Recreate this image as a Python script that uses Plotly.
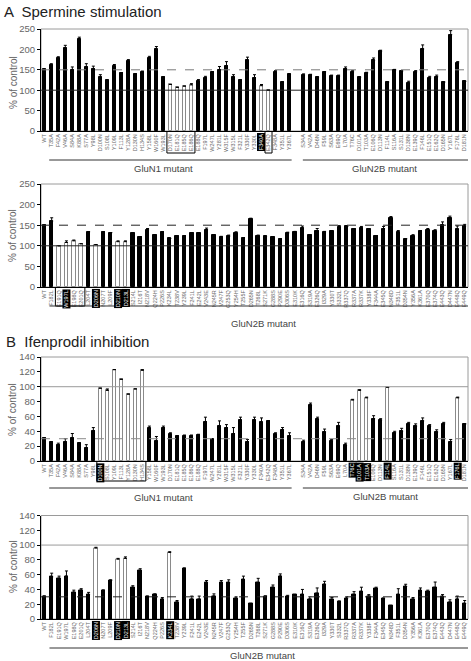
import plotly.graph_objects as go

# ---------------- DATA ----------------
# Panel A (spermine stimulation), top row
a_n1_labels = ["WT", "T35A", "F42A", "V46A", "S84A", "K88A", "S77A", "Y98L", "D100N", "S108L",
               "Y109L", "F113L", "Y128A", "D130N", "H134S", "Y158L", "W160F", "W193L", "D170N",
               "E181Q", "E185Q", "E186Q", "E188Q", "F197L", "W247L", "Y281L", "W315F", "W315L",
               "F321L", "Y330F", "Y330L", "F340A", "E342Q", "F348A", "Y351L", "Y367L"]
a_n1_vals = [151, 163, 179, 203, 150, 225, 157, 153, 132, 124, 159, 143, 172, 140, 145, 180, 200,
             132, 114, 107, 110, 113, 122, 131, 145, 150, 160, 132, 125, 173, 131, 111, 100, 145,
             120, 139]
a_n1_err = [0, 2, 3, 7, 7, 5, 8, 6, 6, 0, 4, 0, 3, 0, 2, 3, 7, 0, 0, 0, 0, 3, 4, 3, 0, 8, 10,
            6, 0, 8, 7, 3, 0, 3, 0, 0]

a_n2b_top_labels = ["S34A", "V42A", "D46N", "F59L", "S63A", "E69Q", "L70A", "T76C", "D101A",
                    "T103A", "E106Q", "D113N", "F114L", "S116A", "S131L", "D138N", "E139Q",
                    "F146L", "E151Q", "E162Q", "D165N", "Y167L", "F176L", "D181N"]
a_n2b_top_vals = [137, 137, 132, 145, 135, 134, 153, 145, 132, 142, 173, 195, 120, 149, 146,
                  118, 145, 201, 130, 133, 120, 236, 167, 122]
a_n2b_top_err = [3, 2, 0, 0, 2, 3, 4, 3, 0, 2, 6, 3, 0, 2, 2, 4, 3, 10, 4, 4, 0, 10, 3, 0]

# Panel A, bottom row (GluN2B)
n2b_bot_labels = ["WT", "F182L", "E191Q", "W197L", "E198Q", "E201Q", "L204T", "D206N", "N207T",
                  "L209F", "D210N", "D213L", "S214L", "I216T", "N218V", "Q224H", "P226S", "K234L",
                  "T238V", "Y239L", "F241L", "E242L", "V243E", "N245R", "V247F", "G253Q", "Y254H",
                  "T255F", "D265N", "T268L", "S271K", "G288S", "P290E", "D306S", "E310K", "E316Q",
                  "S319A", "E326Q", "I329A", "Y330T", "S332L", "R337Q", "R337A", "R337K", "Y338F",
                  "F344A", "E345Q", "N348D", "F351L", "D354N", "Y356A", "K361A", "E370Q", "E374Q",
                  "E443Q", "D447N", "E448Q", "E449Q"]
a_n2b_bot_vals = [150, 160, 100, 108, 112, 105, 134, 103, 134, 132, 110, 110, 131, 122, 139, 126,
                  134, 118, 124, 124, 132, 130, 139, 126, 121, 123, 131, 120, 164, 124, 123, 121,
                  117, 131, 133, 143, 127, 137, 133, 135, 146, 147, 140, 144, 140, 125, 142, 167,
                  133, 117, 124, 137, 138, 135, 150, 167, 140, 148]
a_n2b_bot_err = [0, 8, 0, 4, 2, 0, 0, 0, 0, 0, 2, 2, 0, 0, 3, 0, 0, 0, 0, 0, 0, 0, 4, 0, 2, 3, 3,
                 0, 3, 2, 0, 0, 0, 2, 2, 5, 0, 5, 2, 0, 3, 0, 2, 3, 2, 0, 5, 4, 4, 0, 3, 0, 4, 4,
                 8, 5, 8, 4]

# Panel B (ifenprodil inhibition)
b_n1_vals = [31, 25, 22, 26, 31, 24, 18, 41, 98, 95, 123, 110, 90, 97, 122, 44, 27, 45, 36, 33,
             34, 34, 35, 53, 29, 47, 45, 37, 55, 26, 55, 52, 54, 36, 42, 34]
b_n1_err = [0, 1, 2, 4, 6, 0, 4, 4, 0, 2, 0, 0, 0, 0, 1, 3, 6, 2, 2, 1, 1, 1, 1, 6, 0, 7, 4, 8,
            4, 3, 4, 6, 0, 2, 3, 4]
b_n2b_top_vals = [26, 75, 56, 39, 27, 47, 21, 82, 95, 85, 57, 55, 99, 38, 40, 50, 47, 54, 47,
                  39, 50, 26, 85, 50]
b_n2b_top_err = [2, 3, 3, 4, 2, 5, 3, 1, 1, 1, 4, 2, 0, 2, 4, 2, 3, 4, 2, 3, 2, 3, 1, 0]
b_n2b_bot_vals = [31, 57, 55, 58, 36, 39, 33, 96, 39, 52, 81, 82, 42, 65, 30, 33, 27, 90, 23,
                  68, 27, 27, 49, 31, 49, 49, 28, 53, 21, 49, 31, 42, 58, 30, 33, 33, 27, 35, 47,
                  26, 24, 28, 33, 37, 31, 41, 28, 18, 33, 44, 27, 38, 37, 42, 30, 23, 27, 21]
b_n2b_bot_err = [0, 5, 3, 7, 3, 2, 3, 1, 0, 1, 1, 2, 3, 3, 1, 1, 2, 1, 2, 1, 4, 4, 3, 3, 3, 4,
                 2, 5, 0, 6, 0, 4, 3, 2, 0, 7, 3, 7, 4, 3, 0, 2, 4, 6, 2, 2, 0, 0, 8, 3, 2, 4, 2,
                 8, 3, 3, 4, 4]

# styling sets (names)
a_top_white = {"D170N", "E181Q", "E185Q", "E186Q", "F340A", "E342Q"}
a_top_black_lab = {"F340A"}
a_bot_white = {"E191Q", "W197L", "E198Q", "E201Q", "D206N", "D210N", "D213L"}
a_bot_black_lab = {"W197L", "D206N", "D210N", "D213L"}
b_top_white_n1 = {"D100N", "S108L", "Y109L", "F113L", "Y128A", "D130N", "H134S"}
b_top_white_n2 = {"T76C", "D101A", "T103A", "F114L", "F176L"}
b_top_black_n1 = {"D100N"}
b_top_black_n2 = {"T76C", "D101A", "T103A", "F114L", "F176L"}
b_bot_white = {"D206N", "D210N", "D213L", "K234L"}
b_bot_black_lab = {"D206N", "D210N", "D213L", "K234L"}

# ---------------- LAYOUT ----------------
W, H = 471, 661
FONT = "Arial, Liberation Sans, sans-serif"
GREY = "#666666"


def py(p):
    return 1 - p / H


def px(p):
    return p / W


XDOM = [px(41), px(468)]
panels = {
    1: dict(y0=131, y1=29, ymax=250, dtick=50),
    2: dict(y0=287, y1=184, ymax=250, dtick=50),
    3: dict(y0=461, y1=357, ymax=140, dtick=20),
    4: dict(y0=619, y1=515.5, ymax=140, dtick=20),
}

fig = go.Figure()
annotations = []
shapes = []

n1_pos = list(range(len(a_n1_labels)))
n2_top_pos = [len(a_n1_labels) + 1 + j for j in range(len(a_n2b_top_labels))]
top_pos = n1_pos + n2_top_pos
top_labels = a_n1_labels + a_n2b_top_labels
bot_pos = list(range(len(n2b_bot_labels)))


def add_bars(k, xs, labels, vals, errs, white, width):
    fills = ["white" if l in white else "black" for l in labels]
    lines = ["#8a8a8a" if l in white else "black" for l in labels]
    fig.add_trace(go.Bar(
        x=xs, y=vals, width=width, marker=dict(color=fills, line=dict(color=lines, width=1)),
        error_y=dict(type="data", array=errs, arrayminus=[0] * len(errs), symmetric=False,
                     color="black", thickness=1, width=1.5),
        xaxis="x" if k == 1 else f"x{k}", yaxis="y" if k == 1 else f"y{k}",
        showlegend=False, hoverinfo="skip"))


add_bars(1, n1_pos, a_n1_labels, a_n1_vals, a_n1_err, a_top_white, 0.5)
add_bars(1, n2_top_pos, a_n2b_top_labels, a_n2b_top_vals, a_n2b_top_err, set(), 0.5)
add_bars(2, bot_pos, n2b_bot_labels, a_n2b_bot_vals, a_n2b_bot_err, a_bot_white, 0.48)
add_bars(3, n1_pos, a_n1_labels, b_n1_vals, b_n1_err, b_top_white_n1, 0.5)
add_bars(3, n2_top_pos, a_n2b_top_labels, b_n2b_top_vals, b_n2b_top_err, b_top_white_n2, 0.5)
add_bars(4, bot_pos, n2b_bot_labels, b_n2b_bot_vals, b_n2b_bot_err, b_bot_white, 0.48)


def axis_names(k):
    return ("x" if k == 1 else f"x{k}", "y" if k == 1 else f"y{k}")


def setup_axes(k, pos, labels, black_set, rng):
    p = panels[k]
    xa, ya = axis_names(k)
    ticktext = ["" if l in black_set else l for l in labels]
    fig.update_layout(**{
        ("xaxis" if k == 1 else f"xaxis{k}"): dict(
            domain=XDOM, anchor=ya, range=rng, tickmode="array", tickvals=pos,
            ticktext=ticktext, tickangle=-90, ticks="", showgrid=False, zeroline=False,
            showline=True, linecolor="black", linewidth=1, automargin=False,
            tickfont=dict(family=FONT, size=5.5, color=GREY)),
        ("yaxis" if k == 1 else f"yaxis{k}"): dict(
            domain=[py(p["y0"]), py(p["y1"])], anchor=xa, range=[0, p["ymax"]],
            dtick=p["dtick"], tick0=0, ticks="outside", ticklen=3, tickcolor="black",
            showgrid=False, zeroline=False, showline=True, linecolor="black", linewidth=1,
            automargin=False, tickfont=dict(family=FONT, size=9.5, color=GREY)),
    })
    for x, l in zip(pos, labels):
        if l in black_set:
            annotations.append(dict(
                x=x, y=0, xref=xa, yref=f"{ya} domain", yanchor="top", xanchor="center",
                yshift=-1.5, text=l, textangle=-90, showarrow=False, bgcolor="black",
                borderpad=0.3, font=dict(family=FONT, size=5.5, color="white")))
    shapes.append(dict(type="rect", xref=f"{xa} domain", yref=f"{ya} domain", x0=0, x1=1, y0=0,
                       y1=1, line=dict(color="#9a9a9a", width=1), layer="below"))


setup_axes(1, top_pos, top_labels, a_top_black_lab, [-0.47, 60.47])
setup_axes(2, bot_pos, n2b_bot_labels, a_bot_black_lab, [-0.45, 57.45])
setup_axes(3, top_pos, top_labels, b_top_black_n1 | b_top_black_n2, [-0.47, 60.47])
setup_axes(4, bot_pos, n2b_bot_labels, b_bot_black_lab, [-0.45, 57.45])


def hline(k, yv, color, dash, width=1):
    xa, ya = axis_names(k)
    shapes.append(dict(type="line", xref=f"{xa} domain", yref=ya, x0=0, x1=1, y0=yv, y1=yv,
                       line=dict(color=color, width=width, dash=dash), layer="above"))


hline(1, 100, "#222222", "solid")
hline(1, 150, "#7a7a7a", "dash")
hline(2, 100, "#222222", "solid")
hline(2, 150, "#222222", "dash")
hline(3, 100, "#9a9a9a", "solid")
hline(3, 30, "#8a8a8a", "dash")
hline(4, 100, "#9a9a9a", "solid")
hline(4, 30, "#222222", "dash")


def label_box(k, xs_first, xs_last, depth_px):
    xa, ya = axis_names(k)
    p = panels[k]
    hpx = p["y0"] - p["y1"]
    shapes.append(dict(type="rect", xref=xa, yref=f"{ya} domain", x0=xs_first - 0.5,
                       x1=xs_last + 0.5, y0=-0.5 / hpx, y1=-depth_px / hpx,
                       line=dict(color="black", width=1)))


idx = {l: i for l, i in zip(top_labels, top_pos)}
bidx = {l: i for l, i in zip(n2b_bot_labels, bot_pos)}
label_box(1, idx["D170N"], idx["E186Q"], 22)
label_box(1, idx["E342Q"], idx["E342Q"], 22)
label_box(2, bidx["E191Q"], bidx["E201Q"], 19)
label_box(3, idx["D100N"], idx["H134S"], 20)


def group_line(k, x0, x1, ypx):
    xa, _ = axis_names(k)
    shapes.append(dict(type="line", xref=xa, yref="paper", x0=x0, x1=x1, y0=py(ypx), y1=py(ypx),
                       line=dict(color="#333333", width=1)))


def text(x, y, s, size, color=GREY, angle=0, xanchor="center"):
    annotations.append(dict(x=px(x), y=py(y), xref="paper", yref="paper", text=s,
                            showarrow=False, textangle=angle, xanchor=xanchor, yanchor="middle",
                            font=dict(family=FONT, size=size, color=color)))


group_line(1, 0.7, 35.3, 160)
group_line(1, 36.9, 60.8, 160)
text(163, 168, "GluN1 mutant", 9.5, "#444444")
text(384, 168, "GluN2B mutant", 9.5, "#444444")
group_line(2, 0.7, 57.6, 306)
text(263, 323, "GluN2B mutant", 9.5, "#444444")
group_line(3, 0.7, 35.3, 488)
group_line(3, 36.9, 60.8, 488)
text(163, 497, "GluN1 mutant", 9.5, "#444444")
text(385, 496, "GluN2B mutant", 9.5, "#444444")
group_line(4, 0.7, 57.6, 648)
text(262, 655, "GluN2B mutant", 9.5, "#444444")

text(13, 83, "% of control", 10, GREY, -90)
text(13, 236, "% of control", 10, GREY, -90)
text(13, 410, "% of control", 10, GREY, -90)
text(13, 567, "% of control", 10, GREY, -90)

text(2, 11, "A  Spermine stimulation", 15, "#222222", 0, "left")
text(4, 342, "B  Ifenprodil inhibition", 15, "#222222", 0, "left")

fig.update_layout(
    width=W, height=H, margin=dict(l=0, r=0, t=0, b=0),
    paper_bgcolor="white", plot_bgcolor="white", bargap=0,
    annotations=annotations, shapes=shapes, font=dict(family=FONT))

fig.write_html("out.html", config={"displayModeBar": False},
               post_script="document.body.style.margin='0';document.body.style.overflow='hidden';")
